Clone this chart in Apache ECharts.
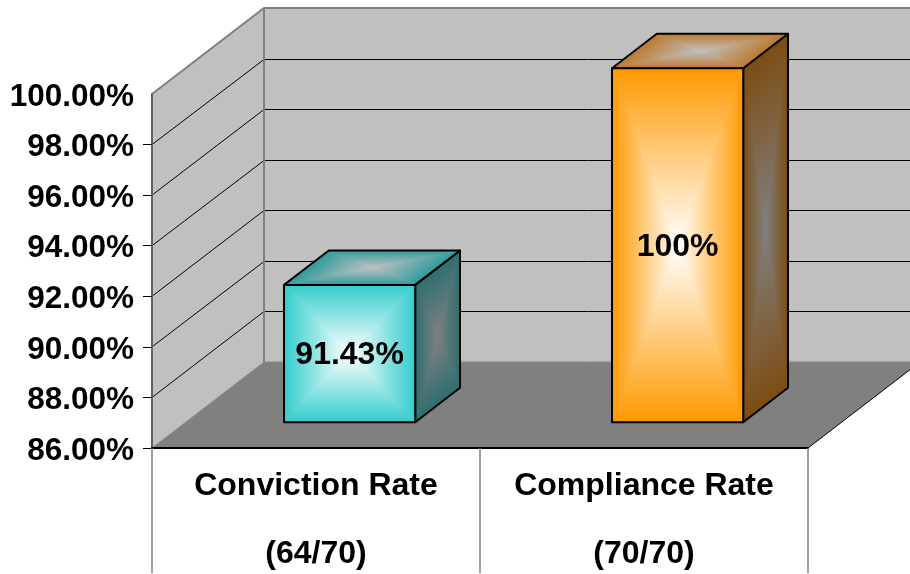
<!DOCTYPE html>
<html>
<head>
<meta charset="utf-8">
<style>html,body{margin:0;padding:0;background:#fff}#c{width:910px;height:574px}</style>
<script src="https://cdn.jsdelivr.net/npm/echarts@6/dist/echarts.min.js"></script>
</head>
<body>
<div id="c"></div>
<script>
const categories = ['Conviction Rate\n\n(64/70)', 'Compliance Rate\n\n(70/70)'];
const rates = [91.43, 100];
const rateLabels = ['91.43%', '100%'];
const yMin = 86;
const yMax = 100;
const yStep = 2;
const gridValues = [88, 90, 92, 94, 96, 98];
const tickValues = [86, 88, 90, 92, 94, 96, 98];
const wallEdgeValues = [86, 100];

const FONT = '"Liberation Sans", Arial, sans-serif';
const DX = 112, DY = -86;
const FRONT = 0.30, BACK = 0.70, BAR_RATIO = 0.4;
const palette = [
  { front: '#33cccc', top: '#2f9c9c', side: '#2f6e6e' },
  { front: '#ff9900', top: '#bd7a2e', side: '#7d4c12' }
];

function gradientTriangle(a, b, c, edge, center) {
  const ex = b[0] - a[0], ey = b[1] - a[1];
  const t = ((c[0] - a[0]) * ex + (c[1] - a[1]) * ey) / (ex * ex + ey * ey);
  const fx = a[0] + t * ex, fy = a[1] + t * ey;
  const grad = { type: 'linear', global: true, x: fx, y: fy, x2: c[0], y2: c[1],
    colorStops: [{ offset: 0, color: edge }, { offset: 1, color: center }] };
  return {
    type: 'polygon', shape: { points: [a, b, c] },
    style: { stroke: grad, lineWidth: 1, fill: grad }
  };
}
function face(corners, edge, center) {
  const c = [
    (corners[0][0] + corners[2][0]) / 2,
    (corners[0][1] + corners[2][1]) / 2
  ];
  const out = [];
  for (let i = 0; i < 4; i++) {
    out.push(gradientTriangle(corners[i], corners[(i + 1) % 4], c, edge, center));
  }
  out.push({ type: 'polygon', shape: { points: corners }, style: { fill: 'none', stroke: '#000', lineWidth: 2, lineJoin: 'round' } });
  return out;
}

function renderWalls(params, api) {
  const cs = params.coordSys;
  const L = cs.x, R = cs.x + cs.width;
  const yb = api.coord([0, wallEdgeValues[0]])[1];
  const yt = api.coord([0, wallEdgeValues[1]])[1];
  const kids = [];
  const gray = '#808080';
  kids.push({ type: 'polygon', shape: { points: [[L + DX, yt + DY], [R + DX, yt + DY], [R + DX, yb + DY], [L + DX, yb + DY]] }, style: { fill: '#c0c0c0' } });
  kids.push({ type: 'polygon', shape: { points: [[L, yt], [L + DX, yt + DY], [L + DX, yb + DY], [L, yb]] }, style: { fill: '#c0c0c0' } });
  kids.push({ type: 'polygon', shape: { points: [[L, yb], [R, yb], [R + DX, yb + DY], [L + DX, yb + DY]] }, style: { fill: '#808080' } });
  gridValues.forEach(v => {
    const y = api.coord([0, v])[1];
    const yBack = Math.round(y + DY) + 0.5;
    kids.push({ type: 'polyline', shape: { points: [[L, y], [L + DX, yBack], [R + DX, yBack]] }, style: { fill: 'none', stroke: '#000', lineWidth: 1 } });
  });
  kids.push({ type: 'polyline', shape: { points: [[L, yt], [L + DX, yt + DY], [R + DX, yt + DY]] }, style: { fill: 'none', stroke: gray, lineWidth: 2 } });
  kids.push({ type: 'line', shape: { x1: L + DX, y1: yt + DY, x2: L + DX, y2: yb + DY }, style: { stroke: gray, lineWidth: 2 } });
  kids.push({ type: 'line', shape: { x1: L + DX, y1: yb + DY, x2: R + DX, y2: yb + DY }, style: { stroke: '#8a8a8a', lineWidth: 1 } });
  kids.push({ type: 'line', shape: { x1: L, y1: yb, x2: L + DX, y2: yb + DY }, style: { stroke: '#8c8c8c', lineWidth: 1 } });
  kids.push({ type: 'line', shape: { x1: R, y1: yb, x2: R + DX, y2: yb + DY }, style: { stroke: '#000', lineWidth: 1 } });
  return { type: 'group', children: kids };
}

function renderBar(params, api) {
  const i = api.value(0), v = api.value(1);
  const top = api.coord([i, v]), base = api.coord([i, yMin]);
  const half = api.size([1, 0])[0] * BAR_RATIO / 2;
  const p = palette[params.dataIndex];
  const fx = DX * FRONT, fy = DY * FRONT, bx = DX * BACK, by = DY * BACK;
  const l = top[0] - half, r = top[0] + half;
  const P = (x, y, ox, oy) => [x + ox, y + oy];
  const frontFace = [P(l, top[1], fx, fy), P(r, top[1], fx, fy), P(r, base[1], fx, fy), P(l, base[1], fx, fy)];
  const topFace = [P(l, top[1], fx, fy), P(l, top[1], bx, by), P(r, top[1], bx, by), P(r, top[1], fx, fy)];
  const sideFace = [P(r, top[1], fx, fy), P(r, top[1], bx, by), P(r, base[1], bx, by), P(r, base[1], fx, fy)];
  const kids = [].concat(
    face(sideFace, p.side, '#808080'),
    face(topFace, p.top, '#c0c0c0'),
    face(frontFace, p.front, '#ffffff')
  );
  kids.push({
    type: 'text',
    style: {
      text: rateLabels[params.dataIndex],
      x: top[0] + fx, y: (top[1] + base[1]) / 2 + fy + 2,
      align: 'center', verticalAlign: 'middle',
      font: 'bold 32px ' + FONT, fill: '#000'
    }
  });
  return { type: 'group', children: kids };
}

const chart = echarts.init(document.getElementById('c'), null, { renderer: 'canvas' });
chart.setOption({
  animation: false,
  backgroundColor: '#ffffff',
  grid: { left: 152, right: 102, top: 94, bottom: 126, containLabel: false },
  xAxis: {
    type: 'category', data: categories, z: 5,
    axisLine: { lineStyle: { color: '#000', width: 2 } },
    axisTick: { show: true, alignWithLabel: false, length: 125, lineStyle: { color: '#808080', width: 1.5 } },
    axisLabel: { interval: 0, margin: 21, color: '#000', fontFamily: FONT, fontWeight: 'bold', fontSize: 32, lineHeight: 34, verticalAlign: 'top' }
  },
  yAxis: {
    type: 'value', min: yMin, max: yMax, interval: yStep, z: 5,
    splitLine: { show: false },
    axisLine: { show: true, lineStyle: { color: '#606060', width: 2 } },
    axisTick: { show: true, length: 9, customValues: tickValues, lineStyle: { color: '#000', width: 1 } },
    axisLabel: {
      margin: 18,
      formatter: v => '{v|' + v.toFixed(2) + '%}',
      rich: { v: { color: '#000', fontFamily: FONT, fontWeight: 'bold', fontSize: 31.5, padding: [6, 0, 0, 0] } }
    }
  },
  series: [
    { type: 'custom', name: 'walls', z: 1, silent: true, renderItem: renderWalls, data: [[0, yMin]], encode: { x: 0, y: 1 } },
    { type: 'custom', name: 'rates', z: 2, silent: true, renderItem: renderBar, data: rates.map((v, i) => [i, v]), encode: { x: 0, y: 1 } }
  ]
});
</script>
</body>
</html>
